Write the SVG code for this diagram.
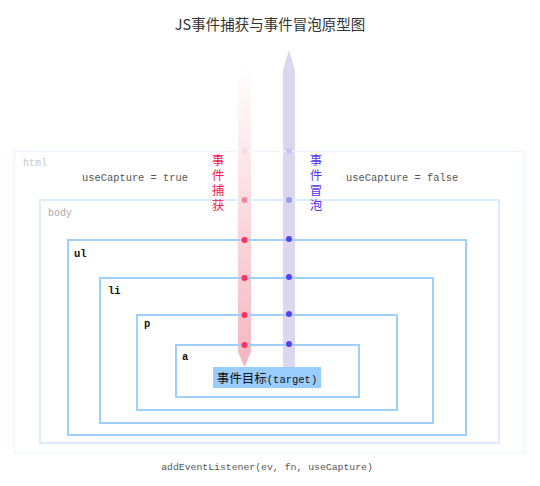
<svg xmlns="http://www.w3.org/2000/svg" width="540" height="486" viewBox="0 0 540 486">
<defs>
<linearGradient id="capG" x1="0" y1="0" x2="0" y2="1">
<stop offset="0" stop-color="#ffffff"/>
<stop offset="0.45" stop-color="#fbdde2"/>
<stop offset="1" stop-color="#f4b6c0"/>
</linearGradient>
</defs>
<style>
.box{fill:none;stroke:#9fd0fb;stroke-width:2}
.lbl{font-family:"Liberation Mono",monospace;font-size:10.5px;font-weight:bold;fill:#111}
.mono{font-family:"Liberation Mono",monospace;font-size:10.4px;fill:#555}
.cjk{font-family:"Noto Sans CJK SC",sans-serif}
.vert{writing-mode:vertical-rl;letter-spacing:2.5px;font-size:12.5px}
.cd{fill:#ff3358}
.bd{fill:#5540ee}
</style>
<rect width="540" height="486" fill="#ffffff"/>
<text x="270" y="30" text-anchor="middle" class="cjk" font-size="14.5" fill="#333">JS事件捕获与事件冒泡原型图</text>

<g id="arrows">
<polygon points="238,63 251,63 251,352 244.5,367 238,352" fill="url(#capG)"/>
<polygon points="283,70 289,50 295,70 295,367 283,367" fill="#dcd6ee"/>
</g>

<g id="html">
<rect x="14.5" y="151.5" width="510" height="301" fill="none" stroke="#eef5fd" stroke-width="1.5"/>
<text x="23" y="166" font-family="Liberation Mono,monospace" font-size="10" fill="#c8c8c8">html</text>
</g>
<g id="body">
<rect x="40" y="200" width="459" height="243" fill="none" stroke="#dcecfd" stroke-width="2"/>
<text x="48" y="216" font-family="Liberation Mono,monospace" font-size="10" fill="#aaa">body</text>
</g>
<g id="ul">
<rect class="box" x="68" y="240" width="398" height="195"/>
<text class="lbl" x="74" y="257">ul</text>
</g>
<g id="li">
<rect class="box" x="100" y="278" width="333" height="145"/>
<text class="lbl" x="108" y="294">li</text>
</g>
<g id="p">
<rect class="box" x="137" y="315" width="260" height="95"/>
<text class="lbl" x="144" y="327">p</text>
</g>
<g id="a">
<rect class="box" x="176" y="345" width="183" height="52"/>
<text class="lbl" x="182" y="360">a</text>
</g>
<g id="target">
<rect x="213" y="367" width="108" height="21" fill="#99ccff"/>
<text x="267" y="382.5" text-anchor="middle" fill="#111"><tspan class="cjk" font-size="12.5">事件目标</tspan><tspan font-family="Liberation Mono,monospace" font-size="10.5">(target)</tspan></text>
</g>

<g id="dots">
<circle cx="244.5" cy="151" r="3" fill="#fbd9df"/>
<circle cx="244.5" cy="200" r="3" fill="#f2899b"/>
<circle class="cd" cx="244.5" cy="240" r="3"/>
<circle class="cd" cx="244.5" cy="278" r="3"/>
<circle class="cd" cx="244.5" cy="315" r="3"/>
<circle class="cd" cx="244.5" cy="345" r="3"/>
<circle cx="289" cy="151" r="3" fill="#c9c3f2"/>
<circle cx="289" cy="200" r="3" fill="#9f94f0"/>
<circle class="bd" cx="289" cy="239" r="3"/>
<circle class="bd" cx="289" cy="277" r="3"/>
<circle class="bd" cx="289" cy="314" r="3"/>
<circle class="bd" cx="289" cy="344" r="3"/>
</g>

<g id="captureLabel">
<text class="cjk vert" x="218" y="154" fill="#f01a55">事件捕获</text>
</g>
<g id="bubbleLabel">
<text class="cjk vert" x="316" y="154" fill="#5a32ee">事件冒泡</text>
</g>

<text class="mono" x="82" y="181">useCapture = true</text>
<text class="mono" x="346" y="181">useCapture = false</text>
<text x="267" y="470" text-anchor="middle" font-family="Liberation Mono,monospace" font-size="9.8" fill="#555">addEventListener(ev, fn, useCapture)</text>
</svg>
